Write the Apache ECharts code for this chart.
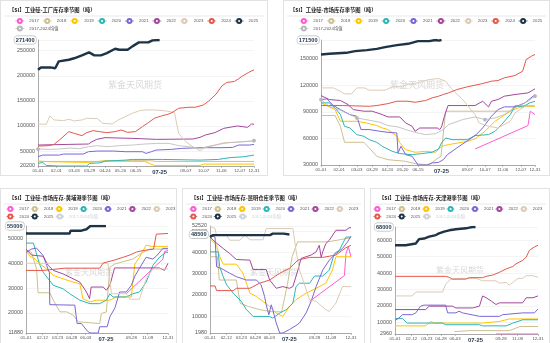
<!DOCTYPE html>
<html>
<head>
<meta charset="utf-8">
<script src="https://cdn.jsdelivr.net/npm/echarts@6/dist/echarts.min.js"></script>
<style>
  html, body { margin: 0; padding: 0; background: #fff; width: 550px; height: 343px; overflow: hidden; }
  .panel { position: absolute; background: #fff; outline: 1px solid #e2e2e2; outline-offset: -1px; }
</style>
</head>
<body>
<div id="p1" class="panel" style="left:0;top:0;width:268px;height:176px"></div>
<div id="p2" class="panel" style="left:283px;top:0;width:267px;height:176px"></div>
<div id="p3" class="panel" style="left:0;top:188px;width:177px;height:158px"></div>
<div id="p4" class="panel" style="left:182px;top:188px;width:183px;height:158px"></div>
<div id="p5" class="panel" style="left:370px;top:188px;width:180px;height:158px"></div>
<script>
// ---- calendar categories (non-leap year, MM-DD) ----
const monthLengths = [31, 28, 31, 30, 31, 30, 31, 31, 30, 31, 30, 31];
const days = [];
monthLengths.forEach((n, m) => {
  for (let d = 1; d <= n; d++) days.push(String(m + 1).padStart(2, '0') + '-' + String(d).padStart(2, '0'));
});

const topTickDates = ['01-01', '02-01', '03-03', '03-29', '04-24', '05-20', '06-15', '09-07', '10-07', '11-06', '12-07', '12-31'];
const bottomTickDates = ['01-01', '02-12', '03-23', '04-28', '06-03', '09-28', '11-09', '12-31'];
const latestDate = '07-25';

const seriesNames = ['2017', '2018', '2019', '2020', '2021', '2022', '2023', '2024', '2025', '2017-2024均值'];
const seriesColors = ['#ff5bd1', '#cdbf8e', '#ffc400', '#2fb5b5', '#7a67d6', '#a3479c', '#dccbb5', '#e4574a', '#1f3347', '#b8b8b8'];

// ---- 工厂库存 ----
const p1_2017 = [];
const p1_2018 = [['01-01',29300],['04-17',29300],['04-24',30700],['07-10',30700],['07-20',29300],['12-31',29300]];
const p1_2019 = [['01-01',30000],['01-21',28700],['03-27',27300],['04-17',30000],['06-30',29300],['07-08',25300],['07-16',21300],['10-01',21300],['10-07',24000],['12-31',24000]];
const p1_2020 = [['01-01',25300],['01-09',27300],['01-15',21300],['02-06',20200],['03-24',20200],['03-29',25300],['04-17',26700],['04-24',30000],['05-29',32000],['06-09',33300],['07-30',33300],['10-01',32000],['11-01',33300],['11-19',36700],['12-14',38700],['12-31',42000]];
const p1_2021 = [['01-01',38700],['01-09',42000],['02-06',42000],['02-13',44000],['03-18',44000],['03-27',48700],['04-11',50000],['05-08',50000],['05-29',48700],['06-26',48700],['07-02',45300],['07-11',48700],['07-19',52000],['08-13',53300],['08-31',55300],['10-01',56700],['11-07',56700],['11-25',57300],['12-05',62000],['12-24',62000],['12-31',63300]];
const p1_2022 = [['01-01',62000],['02-22',63300],['03-27',64000],['04-02',68700],['04-10',73300],['04-24',76700],['06-09',75300],['07-20',73300],['09-19',74000],['10-01',77300],['10-10',82000],['10-26',86700],['11-10',95300],['12-03',100000],['12-20',97300],['12-27',104000],['12-31',103300]];
const p1_2023 = [['01-01',104000],['01-15',103300],['01-21',120000],['01-28',112000],['02-13',110700],['02-22',113300],['03-03',110000],['03-16',112000],['03-24',115300],['04-11',114700],['04-20',105300],['05-06',104000],['05-16',112000],['05-26',117300],['06-09',125300],['06-22',130700],['07-02',132000],['07-16',132000],['08-05',130000],['08-19',126700],['08-26',85300],['09-07',68700],['09-19',58700],['10-01',50700],['10-10',57300],['10-26',61300],['11-10',66700],['11-25',67300],['12-14',68700],['12-31',70000]];
const p1_2024 = [['01-01',60000],['01-19',60700],['01-28',63300],['02-06',72000],['02-22',88700],['03-03',85300],['03-16',80700],['03-24',86700],['04-04',90700],['04-15',88700],['04-27',86700],['05-11',88700],['05-21',92000],['06-01',87300],['06-14',88700],['06-26',98700],['07-06',106700],['07-16',115300],['07-28',120000],['08-08',123300],['08-15',126700],['08-26',135300],['09-12',137300],['09-23',137300],['10-07',142000],['10-16',150000],['10-28',163300],['11-07',180000],['11-15',186700],['11-28',188700],['12-05',194000],['12-12',200000],['12-22',206700],['12-31',212000]];
const p1_2025 = [['01-01',212000],['01-06',216700],['01-22',216700],['01-30',215000],['02-05',228700],['02-22',232000],['03-03',235000],['03-16',240700],['03-28',246700],['04-06',240700],['04-17',240700],['04-27',245300],['05-11',254000],['05-18',252000],['06-01',252000],['06-09',258700],['06-20',266700],['07-06',266700],['07-13',270700],['07-25',271400]];
const p1_mean = [['01-01',54000],['01-21',53300],['02-06',54000],['02-22',56000],['03-12',54700],['03-27',58700],['04-11',60700],['04-27',58700],['05-18',60700],['06-09',62000],['06-30',64000],['07-20',65300],['08-10',65300],['08-26',60700],['09-12',58700],['10-01',55300],['10-13',58700],['11-01',63300],['11-19',66700],['12-14',68700],['12-31',70700]];

// ---- 市场库存 ----
const p2_2017 = [['09-20',48100],['12-19',74600],['12-23',90900],['12-31',87100]];
const p2_2018 = [['01-01',86000],['01-25',86000],['02-03',73800],['02-10',55700],['03-15',55700],['03-24',49300],['04-06',39800],['04-25',36000],['05-25',34200],['06-10',31500],['07-04',30000],['07-15',36000],['07-24',39800],['08-01',90900],['11-19',90900],['11-27',97300],['12-31',97300]];
const p2_2019 = [['01-01',100300],['01-13',96500],['01-25',92700],['02-03',79500],['03-03',79500],['03-19',77600],['04-06',74600],['04-15',72000],['04-25',70100],['05-10',62500],['05-15',55000],['05-25',47400],['06-10',44400],['06-28',45500],['07-15',44400],['07-25',51200],['08-06',53100],['09-07',56800],['09-20',59500],['10-07',68200],['10-24',79500],['11-19',90900],['12-07',95800],['12-31',96500]];
const p2_2020 = [['01-01',100300],['01-15',100300],['01-25',94600],['02-03',87100],['02-10',73800],['02-19',72000],['03-03',64400],['03-15',62500],['03-24',58700],['04-06',55700],['04-15',51200],['05-02',45500],['05-15',42900],['06-05',41700],['06-21',42900],['07-09',44400],['07-20',48100],['07-25',55000],['08-01',60600],['08-12',58700],['09-07',58700],['09-20',63300],['10-13',64400],['10-24',68200],['11-04',75700],['11-19',87100],['11-27',96500],['12-10',95800],['12-22',100300],['12-31',102200]];
const p2_2021 = [['01-01',104100],['01-11',104800],['01-22',97300],['02-03',92700],['02-19',87100],['03-03',85200],['03-10',70100],['03-24',70100],['04-11',68200],['04-25',67000],['05-10',66300],['05-12',43600],['05-17',51200],['05-25',41700],['06-05',39800],['06-15',30000],['06-30',30000],['07-09',32300],['07-20',33000],['07-28',36000],['08-04',41700],['08-20',49300],['09-10',58700],['09-22',64400],['10-03',72000],['10-18',85200],['10-29',92700],['11-09',95800],['11-27',95800],['12-14',100300],['12-31',109800]];
const p2_2022 = [['01-01',108600],['01-15',104100],['02-03',103000],['02-16',98400],['02-25',92700],['03-15',90900],['03-29',90900],['04-15',87100],['04-25',84400],['05-15',84400],['05-25',77600],['06-05',73800],['06-10',68200],['06-18',71900],['07-18',71900],['07-22',70100],['07-25',73100],['07-30',85200],['08-05',97300],['09-20',97300],['10-03',102200],['10-13',95800],['10-18',102200],['10-29',104100],['11-09',107900],['11-27',109800],['12-19',111600],['12-31',116200]];
const p2_2023 = [['01-01',117300],['01-22',117300],['02-03',113500],['02-10',110500],['02-22',110500],['03-03',117300],['03-16',117300],['03-24',114700],['04-20',114700],['05-02',118500],['05-20',118500],['05-25',121100],['06-15',123000],['07-04',126800],['07-20',127900],['08-01',124900],['08-12',115400],['08-30',104100],['09-20',87100],['09-27',77600],['10-13',73800],['10-29',72000],['11-19',79500],['11-27',89000],['12-14',96500],['12-31',97300]];
const p2_2024 = [['01-01',97300],['02-07',97300],['03-24',96500],['04-06',97300],['04-25',99500],['05-10',102200],['05-29',102200],['06-10',101000],['06-28',103000],['07-09',106000],['07-20',107900],['07-28',109800],['08-06',111600],['08-20',115400],['09-07',118500],['10-01',121900],['10-18',124900],['10-29',125600],['11-09',128700],['11-27',131300],['12-10',136200],['12-16',149400],['12-25',153200],['12-31',155100]];
const p2_2025 = [['01-01',155100],['01-15',155900],['02-13',157000],['02-28',158900],['03-20',160000],['04-06',161500],['04-20',163400],['05-10',165700],['05-29',167200],['06-15',170200],['07-04',170200],['07-15',171500],['07-20',170800],['07-25',171500]];
const p2_mean = [['01-01',104100],['01-15',96500],['02-07',90900],['03-03',83300],['03-24',80700],['04-11',78400],['04-25',74600],['05-12',73100],['05-25',70100],['06-10',67000],['06-28',64400],['07-15',65500],['07-28',70100],['08-06',75700],['08-30',81400],['09-20',84400],['10-07',81400],['10-24',83300],['11-09',87100],['11-27',94600],['12-19',102200],['12-31',107900]];

// ---- 黄埔港 ----
const p3_2017 = [['09-15',27700],['12-18',41700],['12-22',44700],['12-31',45100]];
const p3_2018 = [['01-01',45100],['01-15',44400],['01-28',37700],['02-01',28100],['03-03',28100],['03-12',25100],['03-29',20400],['04-15',20400],['05-02',19100],['05-15',16400],['07-09',15700],['07-13',19700],['07-26',20400],['08-04',38400],['08-17',39700],['10-02',41700],['10-28',44400],['11-14',45700],['12-31',45700]];
const p3_2019 = [['01-01',45100],['01-11',42800],['01-24',41700],['02-06',39700],['02-23',37700],['03-12',35100],['04-06',33700],['05-02',32400],['05-19',31700],['05-27',25700],['06-14',24400],['06-30',25100],['08-04',25100],['08-21',26400],['09-28',26400],['10-07',39700],['10-19',42400],['11-05',47300],['11-18',46800],['12-31',46800]];
const p3_2020 = [['01-01',48100],['01-20',48100],['01-28',43700],['02-06',39100],['02-14',36400],['02-27',33700],['03-12',31100],['04-06',29700],['04-23',27700],['05-19',25100],['06-14',23700],['07-09',23700],['07-26',25100],['08-04',27700],['08-12',26400],['09-15',26400],['10-02',27700],['10-19',28400],['11-05',32400],['11-22',39100],['12-09',42400],['12-26',44400],['12-31',44400]];
const p3_2021 = [['01-01',44400],['01-15',45700],['01-28',46100],['02-14',43100],['02-23',39100],['03-02',36100],['03-03',23300],['05-06',23100],['05-12',15700],['05-23',15700],['06-07',12700],['06-14',11880],['07-05',11880],['07-09',14400],['07-28',14400],['08-04',18400],['08-17',22000],['08-29',28400],['09-15',28400],['09-28',31100],['10-07',34800],['10-19',38000],['11-05',42400],['11-22',41700],['12-01',42800],['12-18',46000],['12-31',46000]];
const p3_2022 = [['01-01',45700],['01-15',43300],['02-14',42800],['02-27',39100],['03-12',37100],['04-06',35700],['04-23',34400],['05-19',32400],['06-05',28400],['06-13',25700],['06-17',30400],['07-18',30400],['07-26',29100],['08-04',31100],['08-16',38100],['12-09',38100],['12-22',37100],['12-31',40000]];
const p3_2023 = [['01-01',40000],['07-30',40000],['08-08',27700],['09-15',27700],['09-24',25500],['10-19',25500],['11-05',33700],['11-22',37700],['12-31',37700]];
const p3_2024 = [['01-01',37100],['02-14',37100],['04-11',38000],['07-09',38000],['07-18',40100],['08-12',41100],['09-07',42400],['09-24',43300],['10-11',44500],['10-28',45100],['11-24',45700],['12-01',51700],['12-31',52000]];
const p3_2025 = [['01-01',52000],['04-23',52000],['04-25',53100],['05-23',53100],['06-05',53700],['06-15',55000],['07-25',55000]];
const p3_mean = [];

// ---- 昆明仓库 ----
const p4_2017 = [['09-15',16900],['12-14',29100],['12-18',39500],['12-24',42700],['12-31',38000]];
const p4_2018 = [['01-01',38000],['01-20',38000],['01-25',27000],['03-10',27000],['03-20',16000],['04-10',14500],['05-10',13000],['06-10',12000],['07-05',12000],['07-20',25000],['08-01',38000],['08-15',45000],['10-31',45000],['12-01',46000],['12-31',47000]];
const p4_2019 = [['01-01',46600],['01-18',43400],['01-26',38000],['02-04',34500],['03-10',34500],['03-27',30200],['04-14',20800],['05-01',19200],['05-18',16900],['06-04',14500],['06-21',11400],['07-08',9800],['07-25',14500],['08-11',17700],['09-06',20800],['10-02',23100],['10-27',25500],['11-13',31700],['11-22',38000],['12-31',38000]];
const p4_2020 = [['01-01',40300],['01-22',40300],['01-26',33300],['02-04',28600],['02-13',24700],['03-02',20800],['03-23',16900],['04-05',13000],['04-14',11400],['04-22',9800],['06-04',9800],['06-12',9000],['06-30',11400],['07-17',13000],['08-03',16100],['08-11',23900],['08-20',25500],['09-15',25500],['09-28',28900],['10-19',28900],['11-05',31700],['11-18',39500],['12-01',41100],['12-18',47300],['12-31',47300]];
const p4_2021 = [['01-01',48100],['01-14',47300],['01-18',33300],['02-04',32000],['02-21',30200],['03-10',28600],['04-05',27000],['05-01',27000],['05-13',24700],['05-22',19200],['05-26',15300],['06-02',10600],['06-08',15300],['06-12',13000],['06-21',6700],['06-30',1980],['07-08',1980],['07-25',3600],['08-11',5500],['08-20',6700],['09-06',11400],['09-19',16900],['10-02',23900],['10-19',31700],['11-05',36400],['11-22',39500],['12-09',41900],['12-22',45000],['12-31',47700]];
const p4_2022 = [['01-01',47300],['01-14',45000],['02-04',41900],['02-21',39500],['03-10',36700],['04-14',36400],['04-22',32000],['05-26',32000],['06-04',27000],['06-21',23100],['07-08',23900],['07-25',23100],['08-03',23900],['08-16',31700],['08-24',37200],['09-19',38800],['10-02',40300],['10-10',43400],['10-15',37700],['10-19',40300],['10-27',44200],['11-05',45800],['11-22',50500],['12-18',50500],['12-26',51700],['12-31',51700]];
const p4_2023 = [['01-01',52520],['01-14',51300],['01-18',48100],['02-13',48100],['02-21',45800],['03-19',45800],['04-01',48100],['04-14',46000],['05-18',46000],['05-26',51300],['08-03',51300],['08-11',41100],['08-20',31700],['08-29',27000],['09-15',17700],['10-02',16900],['10-27',13000],['11-05',12200],['11-22',16100],['12-09',23900],['12-31',23900]];
const p4_2024 = [['01-01',24200],['01-14',24200],['01-18',22000],['03-02',22000],['03-10',23100],['04-14',23100],['05-09',25500],['06-04',27000],['06-30',30200],['07-25',32500],['08-16',36400],['09-15',37700],['10-19',37700],['11-22',38800],['12-18',42300],['12-31',43400]];
const p4_2025 = [['01-01',47300],['01-08',48200],['06-05',48200],['06-12',48900],['07-10',48900],['07-25',48500]];
const p4_mean = [];

// ---- 天津港 ----
const p5_2017 = [['09-15',2960],['12-31',2960]];
const p5_2018 = [['06-01',4400],['07-10',5000],['10-19',5000],['11-15',7500],['12-31',7500]];
const p5_2019 = [['01-01',7900],['03-20',7900],['04-02',10600],['04-11',9600],['08-12',9600],['09-24',10600],['10-19',12100],['12-31',12100]];
const p5_2020 = [['01-01',12300],['01-20',12300],['02-01',9600],['05-02',9600],['05-10',8600],['08-04',8600],['08-12',7900],['10-11',7900],['10-28',9600],['11-22',11600],['12-31',11600]];
const p5_2021 = [['01-01',11200],['01-11',12700],['01-20',14700],['02-14',14700],['02-23',15800],['03-07',19900],['03-16',20500],['05-10',20500],['05-15',15800],['06-05',15800],['06-13',16800],['06-22',15800],['08-04',13700],['09-24',13700],['10-02',14700],['11-22',15800],['12-22',15800],['12-31',18200]];
const p5_2022 = [['01-01',17800],['03-20',17800],['03-29',19900],['05-27',19900],['06-05',18800],['07-18',18800],['08-04',19900],['08-12',26100],['08-21',25000],['09-03',23000],['09-15',20900],['09-24',21900],['11-22',21900],['12-01',25000],['12-18',25000],['12-22',26100],['12-31',26100]];
const p5_2023 = [['01-01',26100],['02-14',26100],['02-23',28500],['05-02',28500],['05-10',33300],['05-23',36300],['06-13',36800],['07-26',36800],['08-12',35300],['09-15',35300],['09-24',33900],['10-11',34300],['10-19',32600],['10-28',34300],['11-10',36800],['11-22',36800],['12-01',38400],['12-18',38400],['12-31',37400]];
const p5_2024 = [['01-01',38000],['05-10',38000],['05-19',37400],['05-27',36300],['06-30',36300],['07-09',37200],['08-12',37200],['08-21',38000],['09-07',38800],['09-24',40500],['10-11',42500],['10-28',44000],['11-05',45600],['11-22',47700],['12-01',49700],['12-09',53800],['12-22',55900],['12-31',56900]];
const p5_2025 = [['01-01',56900],['01-28',56900],['02-01',58000],['02-23',58000],['03-03',60600],['03-16',61000],['03-29',62100],['04-15',63100],['04-23',64100],['05-06',65200],['05-19',66000],['06-05',66600],['07-01',67200],['07-09',67600],['07-18',68000],['07-25',68000]];
const p5_mean = [];

const FONT = "'Liberation Sans', 'Noto Sans CJK SC', sans-serif";
const CJK = "'Noto Sans CJK SC', sans-serif";

const panels = [
  { id: 'p1', title: '【SI】工业硅-工厂库存季节图（吨）',
    data: [p1_2017, p1_2018, p1_2019, p1_2020, p1_2021, p1_2022, p1_2023, p1_2024, p1_2025, p1_mean],
    yMin: 20200, yMax: 271400, ticks: topTickDates, meanShown: true,
    rows: [seriesNames.slice(0, 9), seriesNames.slice(9)],
    grid: { left: 38, right: 14, top: 40, bottom: 10 },
    titleLeft: 9, legendLeft: 15, itemWidth: 9, itemGap: 3.5, wm: [108, 80, 9] },
  { id: 'p2', title: '【SI】工业硅-市场库存季节图（吨）',
    data: [p2_2017, p2_2018, p2_2019, p2_2020, p2_2021, p2_2022, p2_2023, p2_2024, p2_2025, p2_mean],
    yMin: 30000, yMax: 171500, ticks: topTickDates, meanShown: true,
    rows: [seriesNames.slice(0, 9), seriesNames.slice(9)],
    grid: { left: 38, right: 15, top: 40, bottom: 11 },
    titleLeft: 7, legendLeft: 16, itemWidth: 9, itemGap: 3.5, wm: [107, 80, 9] },
  { id: 'p3', title: '【SI】工业硅-市场库存-黄埔港季节图（吨）',
    data: [p3_2017, p3_2018, p3_2019, p3_2020, p3_2021, p3_2022, p3_2023, p3_2024, p3_2025, p3_mean],
    yMin: 11880, yMax: 55000, ticks: bottomTickDates, meanShown: false,
    rows: [seriesNames.slice(0, 7), seriesNames.slice(7)],
    grid: { left: 26, right: 9, top: 38, bottom: 13 },
    titleLeft: 9, legendLeft: 6, itemWidth: 8, itemGap: 1.5, wm: [65, 80, 8] },
  { id: 'p4', title: '【SI】工业硅-市场库存-昆明仓库季节图（吨）',
    data: [p4_2017, p4_2018, p4_2019, p4_2020, p4_2021, p4_2022, p4_2023, p4_2024, p4_2025, p4_mean],
    yMin: 1980, yMax: 52520, ticks: bottomTickDates, meanShown: false,
    rows: [seriesNames.slice(0, 7), seriesNames.slice(7)],
    grid: { left: 28, right: 14, top: 38, bottom: 13 },
    titleLeft: 9, legendLeft: 7, itemWidth: 8, itemGap: 1.5, wm: [68, 80, 8] },
  { id: 'p5', title: '【SI】工业硅-市场库存-天津港季节图（吨）',
    data: [p5_2017, p5_2018, p5_2019, p5_2020, p5_2021, p5_2022, p5_2023, p5_2024, p5_2025, p5_mean],
    yMin: 2960, yMax: 68000, ticks: bottomTickDates, meanShown: false,
    rows: [seriesNames.slice(0, 7), seriesNames.slice(7)],
    grid: { left: 25, right: 12, top: 39, bottom: 12 },
    titleLeft: 9, legendLeft: 3, itemWidth: 8, itemGap: 1.5, wm: [66, 78, 8] }
];

function buildPanel(cfg) {
  const el = document.getElementById(cfg.id);
  const chart = echarts.init(el, null, { renderer: 'canvas' });
  const W = el.clientWidth;
  const tickSet = new Set(cfg.ticks);
  const showTick = (i, v) => tickSet.has(v);
  const latestSeries = cfg.data[8];
  const latestValue = latestSeries[latestSeries.length - 1][1];

  const series = seriesNames.map((name, i) => {
    const isLatest = name === '2025';
    const isMean = i === 9;
    return {
      name, type: 'line', data: cfg.data[i],
      symbol: 'emptyCircle',
      symbolSize: isMean ? 1.8 : 3,
      showSymbol: isMean && cfg.meanShown,
      lineStyle: { width: isLatest ? 2.4 : (isMean ? 0.8 : 1), color: seriesColors[i] },
      itemStyle: { color: seriesColors[i], borderWidth: 0.5 },
      z: isLatest ? 5 : 2,
      silent: true,
      emphasis: { disabled: true }
    };
  });

  const legendBase = {
    left: cfg.legendLeft, padding: 0,
    itemWidth: cfg.itemWidth, itemHeight: 5, itemGap: cfg.itemGap,
    textStyle: { fontSize: 4.3, color: '#555', fontFamily: FONT },
    lineStyle: { width: 0.7 },
    itemStyle: { borderWidth: 0.6 }
  };

  chart.setOption({
    animation: false,
    color: seriesColors,
    textStyle: { fontFamily: FONT },
    title: {
      text: cfg.title, left: cfg.titleLeft, top: 7, padding: 0,
      textStyle: { fontSize: 5.3, fontWeight: 'bold', color: '#222', fontFamily: CJK }
    },
    legend: [
      Object.assign({}, legendBase, { data: cfg.rows[0], top: 18 }),
      Object.assign({}, legendBase, { data: cfg.rows[1], top: 25.5,
        selected: cfg.meanShown ? {} : { '2017-2024均值': false } })
    ],
    grid: cfg.grid,
    xAxis: {
      type: 'category', data: days, boundaryGap: false,
      axisLine: { lineStyle: { color: '#888', width: 0.7 } },
      axisTick: { show: true, interval: showTick, length: 2, lineStyle: { color: '#999', width: 0.6 } },
      axisLabel: { interval: showTick, fontSize: 4.4, color: '#555', margin: 3 },
      splitLine: { show: false },
      axisPointer: {
        show: true, type: 'none', status: 'show', triggerTooltip: false,
        value: days.indexOf(latestDate),
        label: { show: true, backgroundColor: '#fff', color: '#1f3347', fontWeight: 'bold',
                 fontSize: 5.8, padding: [1, 2], margin: 2, borderWidth: 0 }
      }
    },
    yAxis: {
      type: 'value', min: cfg.yMin, max: cfg.yMax,
      axisLine: { show: true, lineStyle: { color: '#888', width: 0.7 } },
      axisTick: { show: false },
      axisLabel: { fontSize: 5.4, color: '#555', margin: 3, formatter: v => String(v) },
      splitLine: { lineStyle: { color: '#ececec', width: 0.6 } },
      axisPointer: {
        show: true, type: 'none', status: 'show', triggerTooltip: false,
        value: latestValue,
        label: { show: true, formatter: p => String(Math.round(p.value)),
                 backgroundColor: '#fff', borderColor: '#b5b5b5', borderWidth: 0.6,
                 color: '#1f3347', fontWeight: 'bold', fontSize: 5.6, padding: [1, 1.5], margin: 2 }
      }
    },
    graphic: [
      { type: 'line', silent: true, shape: { x1: 4, y1: 16, x2: W - 4, y2: 16 },
        style: { stroke: '#e3e3e3', lineWidth: 0.8 } },
      { type: 'text', silent: true, left: cfg.wm[0], top: cfg.wm[1], z: -1,
        style: { text: '紫金天风期货', fill: '#d8d8d8', font: cfg.wm[2] + 'px ' + CJK } }
    ],
    series
  });
}

panels.forEach(buildPanel);
</script>
</body>
</html>
